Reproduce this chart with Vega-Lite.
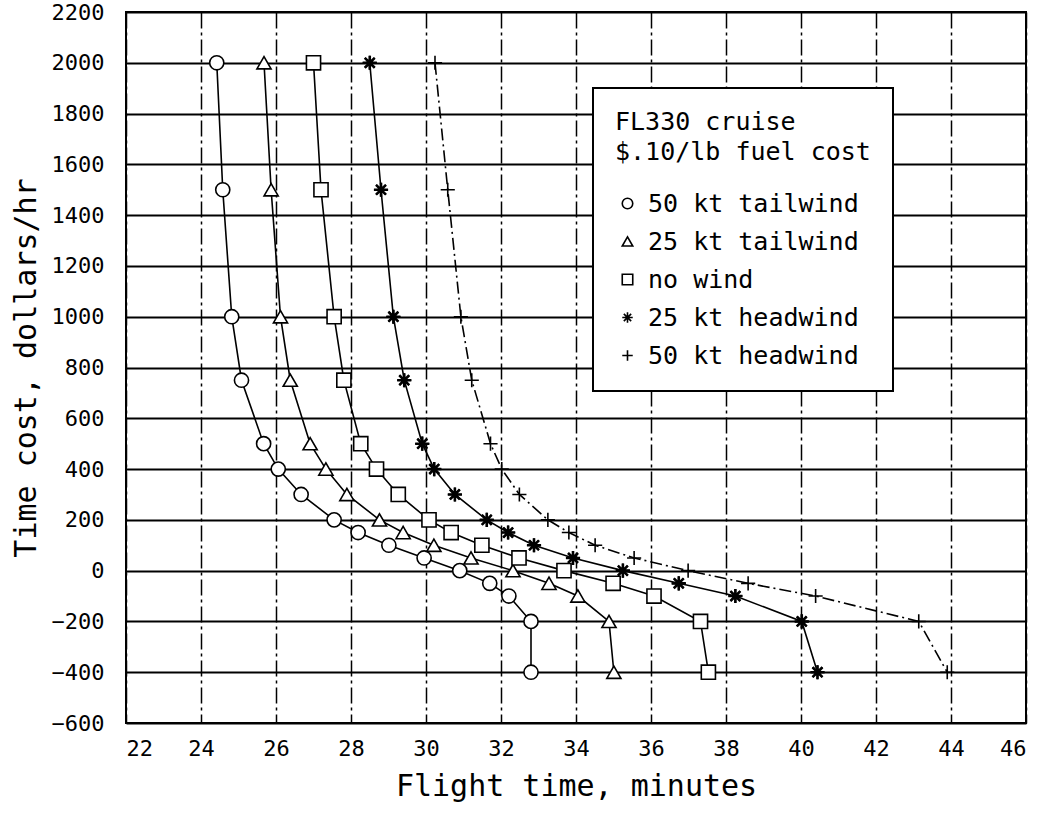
{
  "$schema": "https://vega.github.io/schema/vega-lite/v6.json",
  "width": 900,
  "height": 711,
  "autosize": {"type": "none"},
  "padding": {"left": 126, "top": 12, "right": 22, "bottom": 95},
  "background": "white",
  "config": {
    "view": {"stroke": "black", "strokeWidth": 2},
    "font": "DejaVu Sans Mono",
    "axis": {
      "domain": false,
      "ticks": false,
      "tickSize": 0,
      "grid": true,
      "gridColor": "black",
      "gridOpacity": 1,
      "labelColor": "black",
      "titleColor": "black",
      "labelFont": "DejaVu Sans Mono",
      "labelFontSize": 22,
      "titleFont": "DejaVu Sans Mono",
      "titleFontWeight": "normal"
    },
    "legend": {"strokeWidth": 2, "symbolStrokeWidth": 1.6}
  },
  "data": {
    "values": [
      {"s": "50 kt tailwind", "t": 24.42, "c": 2000},
      {"s": "50 kt tailwind", "t": 24.58, "c": 1500},
      {"s": "50 kt tailwind", "t": 24.82, "c": 1000},
      {"s": "50 kt tailwind", "t": 25.08, "c": 750},
      {"s": "50 kt tailwind", "t": 25.67, "c": 500},
      {"s": "50 kt tailwind", "t": 26.06, "c": 400},
      {"s": "50 kt tailwind", "t": 26.67, "c": 300},
      {"s": "50 kt tailwind", "t": 27.55, "c": 200},
      {"s": "50 kt tailwind", "t": 28.19, "c": 150},
      {"s": "50 kt tailwind", "t": 29.01, "c": 100},
      {"s": "50 kt tailwind", "t": 29.95, "c": 50},
      {"s": "50 kt tailwind", "t": 30.9, "c": 0},
      {"s": "50 kt tailwind", "t": 31.7, "c": -50},
      {"s": "50 kt tailwind", "t": 32.21, "c": -100},
      {"s": "50 kt tailwind", "t": 32.8, "c": -200},
      {"s": "50 kt tailwind", "t": 32.8, "c": -400},
      {"s": "25 kt tailwind", "t": 25.68, "c": 2000},
      {"s": "25 kt tailwind", "t": 25.87, "c": 1500},
      {"s": "25 kt tailwind", "t": 26.12, "c": 1000},
      {"s": "25 kt tailwind", "t": 26.38, "c": 750},
      {"s": "25 kt tailwind", "t": 26.91, "c": 500},
      {"s": "25 kt tailwind", "t": 27.33, "c": 400},
      {"s": "25 kt tailwind", "t": 27.89, "c": 300},
      {"s": "25 kt tailwind", "t": 28.76, "c": 200},
      {"s": "25 kt tailwind", "t": 29.39, "c": 150},
      {"s": "25 kt tailwind", "t": 30.21, "c": 100},
      {"s": "25 kt tailwind", "t": 31.2, "c": 50},
      {"s": "25 kt tailwind", "t": 32.32, "c": 0},
      {"s": "25 kt tailwind", "t": 33.28, "c": -50},
      {"s": "25 kt tailwind", "t": 34.05, "c": -100},
      {"s": "25 kt tailwind", "t": 34.88, "c": -200},
      {"s": "25 kt tailwind", "t": 35.01, "c": -400},
      {"s": "no wind", "t": 27.0, "c": 2000},
      {"s": "no wind", "t": 27.2, "c": 1500},
      {"s": "no wind", "t": 27.55, "c": 1000},
      {"s": "no wind", "t": 27.81, "c": 750},
      {"s": "no wind", "t": 28.26, "c": 500},
      {"s": "no wind", "t": 28.68, "c": 400},
      {"s": "no wind", "t": 29.26, "c": 300},
      {"s": "no wind", "t": 30.08, "c": 200},
      {"s": "no wind", "t": 30.67, "c": 150},
      {"s": "no wind", "t": 31.49, "c": 100},
      {"s": "no wind", "t": 32.48, "c": 50},
      {"s": "no wind", "t": 33.68, "c": 0},
      {"s": "no wind", "t": 34.99, "c": -50},
      {"s": "no wind", "t": 36.08, "c": -100},
      {"s": "no wind", "t": 37.32, "c": -200},
      {"s": "no wind", "t": 37.53, "c": -400},
      {"s": "25 kt headwind", "t": 28.5, "c": 2000},
      {"s": "25 kt headwind", "t": 28.8, "c": 1500},
      {"s": "25 kt headwind", "t": 29.13, "c": 1000},
      {"s": "25 kt headwind", "t": 29.42, "c": 750},
      {"s": "25 kt headwind", "t": 29.9, "c": 500},
      {"s": "25 kt headwind", "t": 30.22, "c": 400},
      {"s": "25 kt headwind", "t": 30.77, "c": 300},
      {"s": "25 kt headwind", "t": 31.62, "c": 200},
      {"s": "25 kt headwind", "t": 32.19, "c": 150},
      {"s": "25 kt headwind", "t": 32.88, "c": 100},
      {"s": "25 kt headwind", "t": 33.92, "c": 50},
      {"s": "25 kt headwind", "t": 35.25, "c": 0},
      {"s": "25 kt headwind", "t": 36.74, "c": -50},
      {"s": "25 kt headwind", "t": 38.25, "c": -100},
      {"s": "25 kt headwind", "t": 40.02, "c": -200},
      {"s": "25 kt headwind", "t": 40.44, "c": -400},
      {"s": "50 kt headwind", "t": 30.24, "c": 2000},
      {"s": "50 kt headwind", "t": 30.58, "c": 1500},
      {"s": "50 kt headwind", "t": 30.93, "c": 1000},
      {"s": "50 kt headwind", "t": 31.22, "c": 750},
      {"s": "50 kt headwind", "t": 31.72, "c": 500},
      {"s": "50 kt headwind", "t": 32.02, "c": 400},
      {"s": "50 kt headwind", "t": 32.49, "c": 300},
      {"s": "50 kt headwind", "t": 33.25, "c": 200},
      {"s": "50 kt headwind", "t": 33.81, "c": 150},
      {"s": "50 kt headwind", "t": 34.51, "c": 100},
      {"s": "50 kt headwind", "t": 35.55, "c": 50},
      {"s": "50 kt headwind", "t": 36.99, "c": 0},
      {"s": "50 kt headwind", "t": 38.59, "c": -50},
      {"s": "50 kt headwind", "t": 40.39, "c": -100},
      {"s": "50 kt headwind", "t": 43.14, "c": -200},
      {"s": "50 kt headwind", "t": 43.9, "c": -400}
    ]
  },
  "encoding": {
    "x": {
      "field": "t",
      "type": "quantitative",
      "scale": {"domain": [22, 46], "nice": false, "zero": false},
      "axis": {
        "title": "Flight time, minutes",
        "values": [22, 24, 26, 28, 30, 32, 34, 36, 38, 40, 42, 44, 46],
        "format": "d",
        "gridWidth": 1.5,
        "gridDash": [16, 4, 3, 4],
        "labelPadding": 15,
        "titleFontSize": 30,
        "titlePadding": 12
      }
    },
    "y": {
      "field": "c",
      "type": "quantitative",
      "scale": {"domain": [-600, 2200], "nice": false, "zero": false},
      "axis": {
        "title": "Time cost, dollars/hr",
        "values": [-600, -400, -200, 0, 200, 400, 600, 800, 1000, 1200, 1400, 1600, 1800, 2000, 2200],
        "format": "d",
        "gridWidth": 2,
        "labelPadding": 22,
        "titleFontSize": 30,
        "titlePadding": 10
      }
    }
  },
  "layer": [
    {
      "transform": [{"filter": "datum.s !== '50 kt headwind'"}],
      "mark": {"type": "line", "color": "black", "strokeWidth": 1.6},
      "encoding": {
        "order": {"field": "c", "sort": "descending"},
        "detail": {"field": "s", "type": "nominal"}
      }
    },
    {
      "transform": [{"filter": "datum.s === '50 kt headwind'"}],
      "mark": {"type": "line", "color": "black", "strokeWidth": 1.6, "strokeDash": [12, 4, 2, 4]},
      "encoding": {
        "order": {"field": "c", "sort": "descending"}
      }
    },
    {
      "mark": {"type": "point", "filled": true, "fillOpacity": 1, "strokeOpacity": 1, "opacity": 1, "size": 200, "strokeWidth": 1.6},
      "encoding": {
        "shape": {
          "field": "s",
          "type": "nominal",
          "scale": {
            "domain": ["50 kt tailwind", "25 kt tailwind", "no wind", "25 kt headwind", "50 kt headwind"],
            "range": ["circle", "triangle-up", "square", "M-1,0L1,0M0,-1L0,1M-0.7,-0.7L0.7,0.7M-0.7,0.7L0.7,-0.7", "M-1,0L1,0M0,-1L0,1"]
          },
          "legend": {
            "title": ["FL330 cruise", "$.10/lb fuel cost"],
            "orient": "none",
            "legendX": 467,
            "legendY": 76,
            "strokeColor": "black",
            "fillColor": "white",
            "padding": 22,
            "titleFont": "DejaVu Sans Mono",
            "titleFontSize": 25,
            "titleFontWeight": "normal",
            "titleLineHeight": 30,
            "titlePadding": 26,
            "titleColor": "black",
            "titleLimit": 500,
            "labelFont": "DejaVu Sans Mono",
            "labelFontSize": 25,
            "labelColor": "black",
            "labelLimit": 500,
            "labelOffset": 8,
            "rowPadding": 12,
            "symbolSize": 110
          }
        },
        "stroke": {
          "field": "s",
          "type": "nominal",
          "scale": {
            "domain": ["50 kt tailwind", "25 kt tailwind", "no wind", "25 kt headwind", "50 kt headwind"],
            "range": ["black", "black", "black", "black", "black"]
          },
          "legend": {"title": ["FL330 cruise", "$.10/lb fuel cost"]}
        },
        "fill": {
          "field": "s",
          "type": "nominal",
          "scale": {
            "domain": ["50 kt tailwind", "25 kt tailwind", "no wind", "25 kt headwind", "50 kt headwind"],
            "range": ["white", "white", "white", "white", "white"]
          },
          "legend": {"title": ["FL330 cruise", "$.10/lb fuel cost"]}
        }
      }
    },
    {
      "transform": [{"filter": "datum.s === '25 kt headwind'"}],
      "mark": {"type": "point", "filled": false, "stroke": "black", "opacity": 1, "size": 200, "strokeWidth": 2.6, "shape": "M-1,0L1,0M0,-1L0,1M-0.7,-0.7L0.7,0.7M-0.7,0.7L0.7,-0.7"},
      "encoding": {}
    }
  ]
}
